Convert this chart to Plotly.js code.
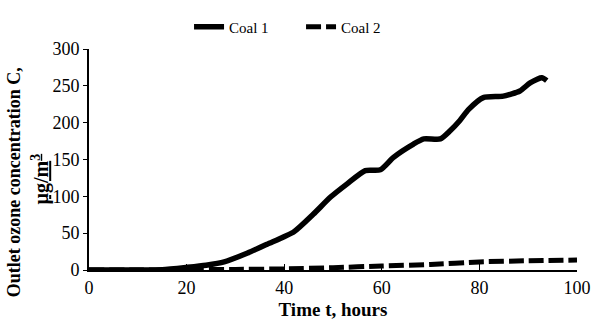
<!DOCTYPE html>
<html>
<head>
<meta charset="utf-8">
<script src="https://cdn.plot.ly/plotly-3.0.1.min.js"></script>
<style>
  html, body { margin: 0; padding: 0; background: #fff; }
  #chart { width: 607px; height: 325px; }
</style>
</head>
<body>
<div id="chart"></div>
<script>
// Coal 1 outlet ozone vs time
const coal1Time = [0, 5, 10, 15, 20.2, 24, 27.7, 32.5, 36.5, 42, 46, 49.5, 52.9, 56.6, 59.7, 62.4, 66.5, 68.6, 72, 74, 76, 77.8, 80.8, 84.9, 88.3, 90.4, 92.8, 93.8];
const coal1Conc = [0, 0, 0, 0.3, 3.6, 6.5, 11, 23, 35, 52, 76, 99, 117, 135, 136, 153, 171, 178, 178, 189, 203, 218, 234, 236, 243, 254, 261, 257];

// Coal 2
const coal2Time = [0, 10, 20, 30, 40, 50, 60, 70, 80, 90, 100];
const coal2Conc = [0, 0, 0.3, 0.8, 1.5, 3.2, 5.4, 7.5, 11, 12.5, 13.5];

const xTicks = [0, 20, 40, 60, 80, 100];
const yTicks = [0, 50, 100, 150, 200, 250, 300];

const serif = 'Liberation Serif, Times New Roman, serif';

const traces = [
  {
    x: coal1Time, y: coal1Conc, name: 'Coal 1', type: 'scatter', mode: 'lines',
    line: { color: '#000', width: 5.5, shape: 'spline', smoothing: 0.6 },
  },
  {
    x: coal2Time, y: coal2Conc, name: 'Coal 2', type: 'scatter', mode: 'lines',
    line: { color: '#000', width: 5, dash: '15px,5px', shape: 'spline', smoothing: 0.6 },
  },
];

const layout = {
  width: 607,
  height: 325,
  margin: { l: 89, r: 30, t: 48, b: 55 },
  paper_bgcolor: '#fff',
  plot_bgcolor: '#fff',
  font: { family: serif, color: '#000', size: 18 },
  showlegend: true,
  legend: {
    orientation: 'h',
    x: 0.205, xanchor: 'left',
    y: 1.095, yanchor: 'middle',
    font: { family: serif, size: 15, color: '#000' },
    entrywidth: 67,
    entrywidthmode: 'pixels',
    itemwidth: 30,
  },
  xaxis: {
    range: [0, 100],
    tickvals: xTicks,
    ticktext: xTicks.map(String),
    showgrid: false,
    zeroline: false,
    showline: true,
    linecolor: '#000',
    linewidth: 2,
    ticks: 'inside',
    ticklen: 6,
    tickwidth: 1,
    tickcolor: '#000',
    tickfont: { family: serif, size: 18 },
    title: { text: '<b>Time t, hours</b>', font: { family: serif, size: 19 }, standoff: 6 },
  },
  yaxis: {
    range: [0, 300],
    tickvals: yTicks,
    ticktext: yTicks.map(String),
    showgrid: false,
    zeroline: false,
    showline: true,
    linecolor: '#000',
    linewidth: 2,
    ticks: 'outside',
    ticklen: 4,
    tickwidth: 1,
    tickcolor: '#000',
    tickfont: { family: serif, size: 18 },
  },
  annotations: [
    {
      text: '<b>Outlet ozone concentration C,</b>',
      xref: 'paper', yref: 'paper',
      x: -0.152, y: 0.396, xanchor: 'center', yanchor: 'middle',
      textangle: -90, showarrow: false,
      font: { family: serif, size: 18, color: '#000' },
    },
    {
      text: '<b><u>µg/m<sup>3</sup></u></b>',
      xref: 'paper', yref: 'paper',
      x: -0.1, y: 0.41, xanchor: 'center', yanchor: 'middle',
      textangle: -90, showarrow: false,
      font: { family: serif, size: 20, color: '#000' },
    },
  ],
};

Plotly.newPlot('chart', traces, layout, { staticPlot: true, displayModeBar: false });
</script>
</body>
</html>
